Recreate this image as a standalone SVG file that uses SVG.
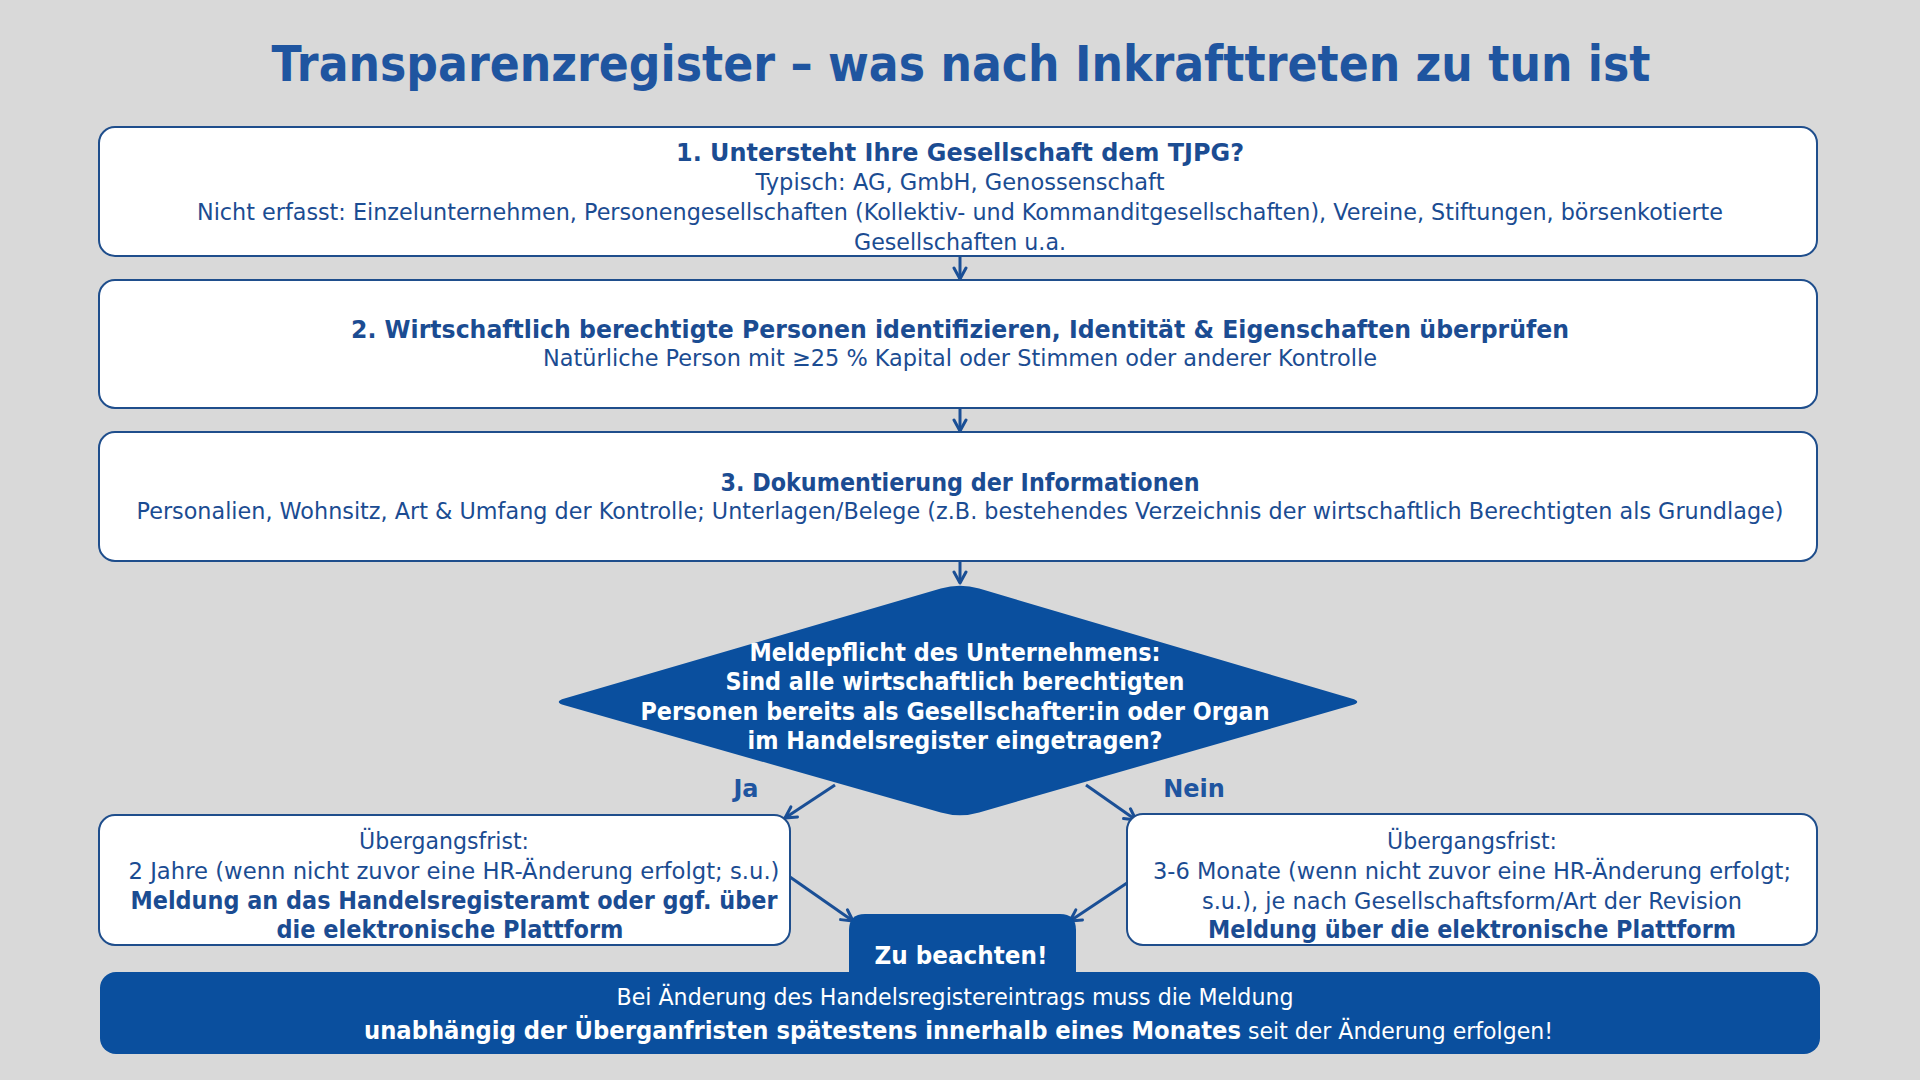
<svg xmlns="http://www.w3.org/2000/svg" width="1920" height="1080" viewBox="0 0 1920 1080">
<style>
text{font-family:"DejaVu Sans","Liberation Sans",sans-serif;text-anchor:middle}
.title{font-size:50px;font-weight:bold;fill:#1F55A0}
.b{font-size:24px;font-weight:bold;fill:#1B4C92}
.r{font-size:23px;fill:#1B4C92}
.wb{font-size:24px;font-weight:bold;fill:#FFFFFF}
.wr{font-size:23px;fill:#FFFFFF}
.st{text-anchor:start}
.en{text-anchor:end}
.box{fill:#FFFFFF;stroke:#1F4E8C;stroke-width:2}
.dark{fill:#0A4F9E}
.lbl{font-size:24px;font-weight:bold;fill:#1F55A0}
.con{stroke:#1A4F96;stroke-width:3;fill:none}
</style>
<defs>
<marker id="ah" markerUnits="userSpaceOnUse" markerWidth="16" markerHeight="16" viewBox="0 0 16 16" refX="14" refY="8" orient="auto">
<path d="M3,2 L14,8 L3,14" fill="none" stroke="#1A4F96" stroke-width="3" stroke-linecap="round" stroke-linejoin="round"/>
</marker>
</defs>
<rect x="0" y="0" width="1920" height="1080" fill="#D9D9D9"/>
<text class="title" x="961" y="81" textLength="1379" lengthAdjust="spacingAndGlyphs">Transparenzregister – was nach Inkrafttreten zu tun ist</text>

<g id="connectors">
<line class="con" x1="960" y1="256" x2="960" y2="279" marker-end="url(#ah)"/>
<line class="con" x1="960" y1="408" x2="960" y2="431" marker-end="url(#ah)"/>
<line class="con" x1="960" y1="561" x2="960" y2="583" marker-end="url(#ah)"/>
<line class="con" x1="835" y1="785" x2="785" y2="818" marker-end="url(#ah)"/>
<line class="con" x1="1086" y1="785" x2="1136" y2="820" marker-end="url(#ah)"/>
<line class="con" x1="790" y1="877" x2="853" y2="921" marker-end="url(#ah)"/>
<line class="con" x1="1127" y1="883" x2="1070" y2="921" marker-end="url(#ah)"/>
<text class="lbl" x="746" y="797">Ja</text>
<text class="lbl" x="1194" y="797">Nein</text>
</g>

<g id="step1">
<rect class="box" x="99" y="127" width="1718" height="129" rx="16"/>
<text class="b" x="960" y="161" textLength="568" lengthAdjust="spacingAndGlyphs">1. Untersteht Ihre Gesellschaft dem TJPG?</text>
<text class="r" x="960" y="190" textLength="409" lengthAdjust="spacingAndGlyphs">Typisch: AG, GmbH, Genossenschaft</text>
<text class="r" x="960" y="220" textLength="1526" lengthAdjust="spacingAndGlyphs">Nicht erfasst: Einzelunternehmen, Personengesellschaften (Kollektiv- und Kommanditgesellschaften), Vereine, Stiftungen, börsenkotierte</text>
<text class="r" x="960" y="250" textLength="212" lengthAdjust="spacingAndGlyphs">Gesellschaften u.a.</text>
</g>

<g id="step2">
<rect class="box" x="99" y="280" width="1718" height="128" rx="16"/>
<text class="b" x="960" y="338" textLength="1218" lengthAdjust="spacingAndGlyphs">2. Wirtschaftlich berechtigte Personen identifizieren, Identität &amp; Eigenschaften überprüfen</text>
<text class="r" x="960" y="366" textLength="834" lengthAdjust="spacingAndGlyphs">Natürliche Person mit ≥25 % Kapital oder Stimmen oder anderer Kontrolle</text>
</g>

<g id="step3">
<rect class="box" x="99" y="432" width="1718" height="129" rx="16"/>
<text class="b" x="960" y="491" textLength="479" lengthAdjust="spacingAndGlyphs">3. Dokumentierung der Informationen</text>
<text class="r" x="960" y="519" textLength="1647" lengthAdjust="spacingAndGlyphs">Personalien, Wohnsitz, Art &amp; Umfang der Kontrolle; Unterlagen/Belege (z.B. bestehendes Verzeichnis der wirtschaftlich Berechtigten als Grundlage)</text>
</g>

<g id="decision">
<path class="dark" d="M979.2,588.6 L1351.5,698.6 Q1363,702 1351.5,705.3 L979.2,812.4 Q960,818 940.8,812.5 L564.5,705.3 Q553,702 564.5,698.6 L940.8,588.6 Q960,583 979.2,588.6 Z"/>
<text class="wb" x="955" y="661" textLength="411" lengthAdjust="spacingAndGlyphs">Meldepflicht des Unternehmens:</text>
<text class="wb" x="955" y="690" textLength="459" lengthAdjust="spacingAndGlyphs">Sind alle wirtschaftlich berechtigten</text>
<text class="wb" x="955" y="720" textLength="629" lengthAdjust="spacingAndGlyphs">Personen bereits als Gesellschafter:in oder Organ</text>
<text class="wb" x="955" y="749" textLength="415" lengthAdjust="spacingAndGlyphs">im Handelsregister eingetragen?</text>
</g>

<g id="ja">
<rect class="box" x="99" y="815" width="691" height="130" rx="16"/>
<text class="r" x="444" y="849" textLength="170" lengthAdjust="spacingAndGlyphs">Übergangsfrist:</text>
<text class="r" x="454" y="879" textLength="651" lengthAdjust="spacingAndGlyphs">2 Jahre (wenn nicht zuvor eine HR-Änderung erfolgt; s.u.)</text>
<text class="b" x="454" y="909" textLength="647" lengthAdjust="spacingAndGlyphs">Meldung an das Handelsregisteramt oder ggf. über</text>
<text class="b" x="450" y="938" textLength="347" lengthAdjust="spacingAndGlyphs">die elektronische Plattform</text>
</g>

<g id="nein">
<rect class="box" x="1127" y="814" width="690" height="131" rx="16"/>
<text class="r" x="1472" y="849" textLength="170" lengthAdjust="spacingAndGlyphs">Übergangsfrist:</text>
<text class="r" x="1472" y="879" textLength="638" lengthAdjust="spacingAndGlyphs">3-6 Monate (wenn nicht zuvor eine HR-Änderung erfolgt;</text>
<text class="r" x="1472" y="909" textLength="540" lengthAdjust="spacingAndGlyphs">s.u.), je nach Gesellschaftsform/Art der Revision</text>
<text class="b" x="1472" y="938" textLength="528" lengthAdjust="spacingAndGlyphs">Meldung über die elektronische Plattform</text>
</g>

<g id="note">
<path class="dark" d="M849,990 L849,930 Q849,914 865,914 L1060,914 Q1076,914 1076,930 L1076,990 Z"/>
<rect class="dark" x="100" y="972" width="1720" height="82" rx="16"/>
<text class="wb" x="961" y="964" style="font-size:25px" textLength="173" lengthAdjust="spacingAndGlyphs">Zu beachten!</text>
<text class="wr" x="955" y="1005" textLength="677" lengthAdjust="spacingAndGlyphs">Bei Änderung des Handelsregistereintrags muss die Meldung</text>
<text class="wb en" x="1241" y="1039" textLength="877" lengthAdjust="spacingAndGlyphs">unabhängig der Überganfristen spätestens innerhalb eines Monates</text>
<text class="wr st" x="1248" y="1039" textLength="305" lengthAdjust="spacingAndGlyphs">seit der Änderung erfolgen!</text>
</g>
</svg>
